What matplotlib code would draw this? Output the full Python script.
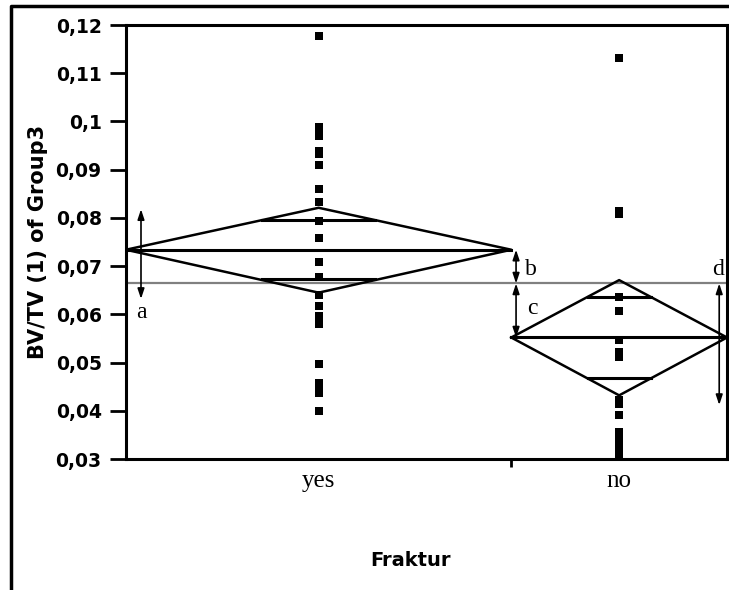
import numpy as np
import matplotlib
matplotlib.use("Agg")
import matplotlib.pyplot as plt
from matplotlib.lines import Line2D

# data
groups = ["yes", "no"]
group_n = [25, 14]          # JMP draws group widths proportional to n
yes_vals = [0.1177, 0.0989, 0.0979, 0.0970, 0.0939, 0.0933, 0.0909, 0.0859,
            0.0834, 0.0794, 0.0759, 0.0708, 0.0677, 0.0641, 0.0617, 0.0596,
            0.0581, 0.0497, 0.0457, 0.0447, 0.0436, 0.0399]
no_vals = [0.1132, 0.0815, 0.0808, 0.0637, 0.0606, 0.0546, 0.0521, 0.0512,
           0.0423, 0.0415, 0.0392, 0.0357, 0.0346, 0.0335, 0.0322, 0.0306]
means = [0.0734, 0.0552]
ci_hi = [0.0821, 0.0671]
ci_lo = [0.0645, 0.0432]
grand_mean = 0.0664
yticks = [0.03, 0.04, 0.05, 0.06, 0.07, 0.08, 0.09, 0.10, 0.11, 0.12]
ytick_labels = ["0,03", "0,04", "0,05", "0,06", "0,07", "0,08", "0,09", "0,1", "0,11", "0,12"]

# annotation arrows: (x, y_from, y_to), labels: (text, x, y)
arrows = [(0.025, 0.0818, 0.0632), (0.649, 0.0734, 0.0664),
          (0.649, 0.0664, 0.0552), (0.987, 0.0664, 0.0412)]
letters = [("a", 0.025, 0.0604), ("b", 0.674, 0.0693),
           ("c", 0.676, 0.0612), ("d", 0.985, 0.0693)]

fig = plt.figure(figsize=(7.29, 5.90), dpi=100)
ax = fig.add_axes([0.1728, 0.222, 0.8245, 0.7356])

edges = np.concatenate([[0], np.cumsum(group_n)]) / np.sum(group_n)
centers = (edges[:-1] + edges[1:]) / 2

ax.axhline(grand_mean, color="#808080", lw=1.6, zorder=1)

for i, vals in enumerate([yes_vals, no_vals]):
    L, R, C = edges[i], edges[i + 1], centers[i]
    m, hi, lo = means[i], ci_hi[i], ci_lo[i]
    ax.plot([L, C, R, C, L], [m, hi, m, lo, m], color="black", lw=1.8, zorder=3)
    ax.plot([L, R], [m, m], color="black", lw=2.2, zorder=3)
    # overlap marks
    half = (R - L) / 2 * (1 - 1 / np.sqrt(2))
    for s in (1, -1):
        yy = m + s * (hi - m) / np.sqrt(2)
        ax.plot([C - half, C + half], [yy, yy], color="black", lw=2.2, zorder=3)
    ax.scatter([C] * len(vals), vals, marker="s", s=36, color="black",
               linewidths=0, zorder=4, clip_on=False)

for x, y0, y1 in arrows:
    ax.annotate("", xy=(x, y1), xytext=(x, y0),
                arrowprops=dict(arrowstyle="<|-|>,head_length=0.6,head_width=0.2",
                                color="black", lw=1.2, shrinkA=0, shrinkB=0),
                zorder=5)
for t, x, y in letters:
    ax.text(x, y, t, ha="center", va="center", fontsize=17,
            family="Liberation Serif", zorder=6)

ax.set_xlim(0, 1)
ax.set_ylim(0.03, 0.12)
ax.set_yticks(yticks)
ax.set_yticklabels(ytick_labels, fontsize=13.5, fontweight="bold")
ax.set_xticks(centers)
ax.set_xticklabels(groups, fontsize=18, family="Liberation Serif")
ax.set_xticks([edges[1]], minor=True)
ax.tick_params(axis="x", which="major", length=0, pad=8)
ax.tick_params(axis="x", which="minor", length=6, width=2)
ax.tick_params(axis="y", length=11.5, width=2, pad=6)
for sp in ax.spines.values():
    sp.set_linewidth(2.2)

fig.text(0.052, 0.59, "BV/TV (1) of Group3", rotation=90, ha="center", va="center",
         fontsize=15, fontweight="bold")
fig.text(0.563, 0.05, "Fraktur", ha="center", va="center", fontsize=14,
         fontweight="bold")

# outer frame
fig.add_artist(Line2D([0.0151, 0.0151, 1.0], [0.0, 0.9898, 0.9898],
                      transform=fig.transFigure, color="black", lw=2.5))

fig.savefig("out.png", dpi=100)
